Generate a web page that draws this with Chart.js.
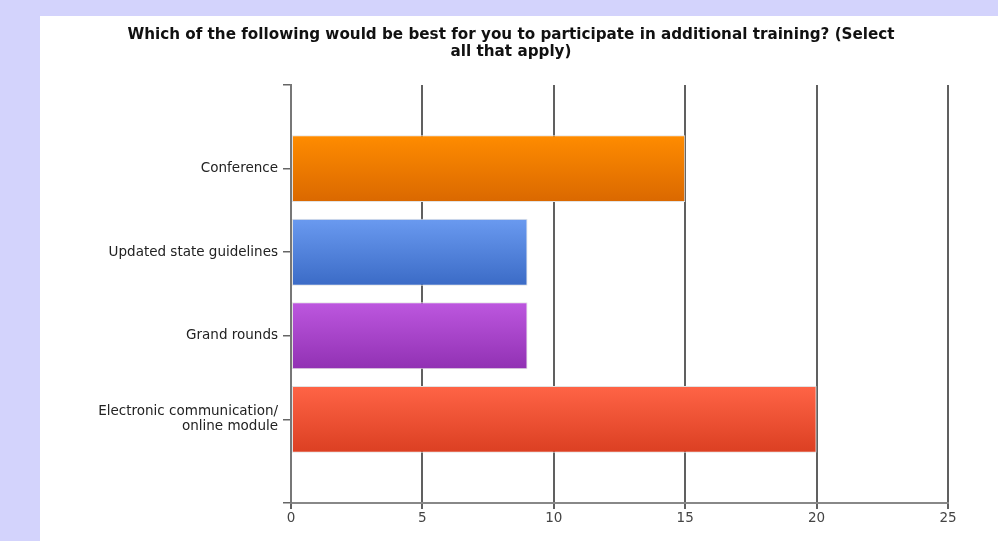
<!DOCTYPE html>
<html>
<head>
<meta charset="utf-8">
<script src="https://cdn.jsdelivr.net/npm/chart.js@4/dist/chart.umd.min.js"></script>
<style>
  html, body { margin: 0; padding: 0; }
  body { width: 998px; height: 541px; background: #d3d3fc; position: relative; overflow: hidden; }
  #panel { position: absolute; left: 40px; top: 16px; width: 958px; height: 525px; background: #fff; }
</style>
</head>
<body>
<div id="panel"><canvas id="grafico"></canvas></div>
<script>
const categorias = ['Conference', 'Updated state guidelines', 'Grand rounds', ['Electronic communication/', 'online module']];
const respuestas = [15, 9, 9, 20];
const ticksX = [0, 5, 10, 15, 20, 25];

const coloresArriba = ['#ff8c00', '#6a9af0', '#bd57df', '#ff6446'];
const coloresAbajo = ['#da6800', '#3b6bc6', '#9131b3', '#db3f22'];

// empty slot above and below, like the original axis
const etiquetas = [''].concat(categorias, ['']);
const valores = [null].concat(respuestas, [null]);

function degradado(c) {
  const i = c.dataIndex - 1;
  const y = c.chart.scales.y;
  if (!y || i < 0 || i >= respuestas.length) return '#ccc';
  const centro = y.getPixelForValue(c.dataIndex);
  const mitad = Math.abs(y.getPixelForValue(1) - y.getPixelForValue(0)) * 0.4;
  const g = c.chart.ctx.createLinearGradient(0, centro - mitad, 0, centro + mitad);
  g.addColorStop(0, coloresArriba[i]);
  g.addColorStop(1, coloresAbajo[i]);
  return g;
}

new Chart(document.getElementById('grafico'), {
  type: 'bar',
  data: {
    labels: etiquetas,
    datasets: [{
      data: valores,
      backgroundColor: degradado,
      borderColor: '#e2e2e2',
      borderWidth: 1,
      borderSkipped: false,
      barPercentage: 1,
      categoryPercentage: 0.8
    }]
  },
  options: {
    indexAxis: 'y',
    responsive: true,
    maintainAspectRatio: false,
    animation: false,
    layout: { padding: { left: 0, right: 16, top: 0, bottom: 0 } },
    plugins: {
      legend: { display: false },
      tooltip: { enabled: false },
      title: {
        display: true,
        text: ['Which of the following would be best for you to participate in additional training? (Select', 'all that apply)'],
        color: '#111',
        font: { family: 'DejaVu Sans', size: 15.2, weight: 'bold', lineHeight: '17px' },
        padding: { top: 10.5, bottom: 24.5 }
      }
    },
    scales: {
      x: {
        min: 0,
        max: 25,
        afterBuildTicks: s => { s.ticks = ticksX.map(v => ({ value: v })); },
        afterFit: s => { s.height = 38; s.paddingRight = 50; },
        grid: { color: '#606060', lineWidth: 2, tickLength: 6, drawTicks: true },
        border: { color: '#888', width: 2 },
        ticks: { color: '#444', padding: 1, font: { family: 'DejaVu Sans', size: 13.5 } }
      },
      y: {
        offset: false,
        afterFit: s => { s.width = 251; },
        grid: { offset: false, drawOnChartArea: false, color: '#666', lineWidth: 1.5, tickLength: 8 },
        border: { color: '#777', width: 2 },
        ticks: { color: '#222', padding: 5, autoSkip: false, font: { family: 'DejaVu Sans', size: 13.5, lineHeight: 1.1 } }
      }
    }
  }
});
</script>
</body>
</html>
